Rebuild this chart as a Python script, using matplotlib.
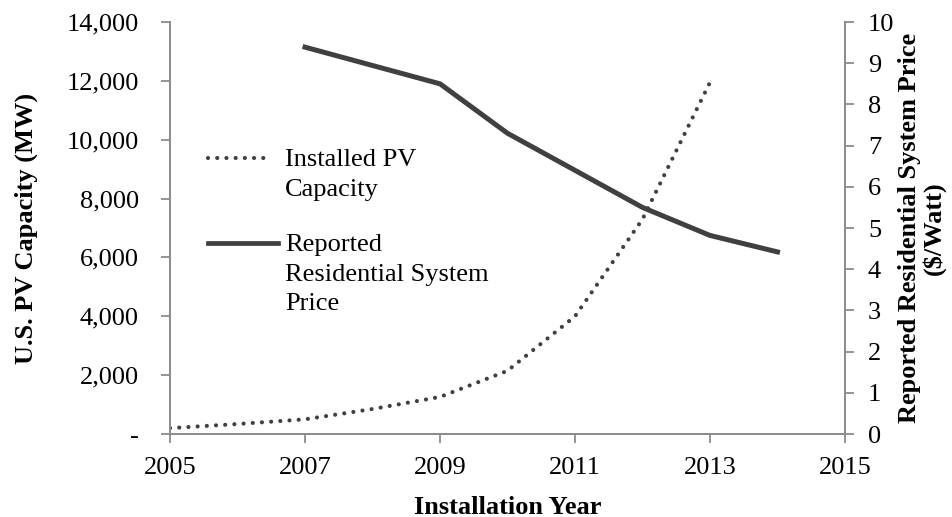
import matplotlib
matplotlib.use("Agg")
import matplotlib.pyplot as plt
from matplotlib.lines import Line2D
from matplotlib.ticker import FuncFormatter

plt.rcParams["font.family"] = ["Liberation Serif", "DejaVu Serif"]

# data
cap_years = [2005, 2006, 2007, 2008, 2009, 2010, 2011, 2012, 2013]
capacity_mw = [200, 340, 500, 850, 1260, 2150, 4000, 7300, 11950]
price_years = [2007, 2009, 2010, 2011, 2012, 2013, 2014]
price_per_watt = [9.39, 8.5, 7.3, 6.4, 5.5, 4.82, 4.42]

GRAY = "#8c8c8c"
LINE = "#404040"
FS = 19
DOTS = (0, (0.01, 2.2))

fig = plt.figure(figsize=(9.52, 5.17), dpi=100)
ax = fig.add_axes([0.1786, 0.1605, 0.7090, 0.7969])
ax2 = ax.twinx()

ax.plot(cap_years, capacity_mw, color=LINE, linestyle=DOTS,
        linewidth=3.0, dash_capstyle="round")
ax2.plot(price_years, price_per_watt, color=LINE, linewidth=3.6)

ax.set_xlim(2005, 2015)
ax.set_ylim(0, 14000)
ax2.set_ylim(0, 10)
ax.set_xticks(range(2005, 2016, 2))
ax.set_yticks(range(0, 14001, 2000))
ax2.set_yticks(range(0, 11))
ax.yaxis.set_major_formatter(FuncFormatter(lambda v, p: "-" if v == 0 else f"{int(v):,}"))

for a in (ax, ax2):
    a.spines["top"].set_visible(False)
    for s in ("left", "right", "bottom"):
        a.spines[s].set_color(GRAY)
        a.spines[s].set_linewidth(1.3)
    a.tick_params(colors=GRAY, labelcolor="black", labelsize=FS, length=6.5, width=1.3)
ax.tick_params(axis="y", pad=16)
ax2.tick_params(axis="y", pad=10)
ax.tick_params(axis="x", pad=10)

ax.set_xlabel("Installation Year", fontsize=FS, fontweight="bold", labelpad=12)
ax.set_ylabel("U.S. PV Capacity (MW)", fontsize=FS, fontweight="bold")
ax.yaxis.set_label_coords(-0.196, 0.5)
ax2.set_ylabel("Reported Residential System Price\n($/Watt)", fontsize=FS,
               fontweight="bold", linespacing=1.05)
ax2.yaxis.set_label_coords(1.079, 0.5)

# Excel-style legend: sample line sits beside the first text line
W, H = 952, 517
legend_items = [
    (["Installed PV", "Capacity"], DOTS, 3.0, 158, 268),
    (["Reported", "Residential System", "Price"], "-", 3.4, 243, 278),
]
for lines, ls, lw, ypx, x_end in legend_items:
    fig.add_artist(Line2D([208 / W, x_end / W], [1 - ypx / H, 1 - ypx / H],
                          color=LINE, linestyle=ls, linewidth=lw,
                          dash_capstyle="round", transform=fig.transFigure))
    for i, line in enumerate(lines):
        fig.text(285 / W, 1 - (ypx + 8.5 + 29 * i) / H, line, fontsize=FS,
                 va="baseline", ha="left")

fig.savefig("out.png", dpi=100)
